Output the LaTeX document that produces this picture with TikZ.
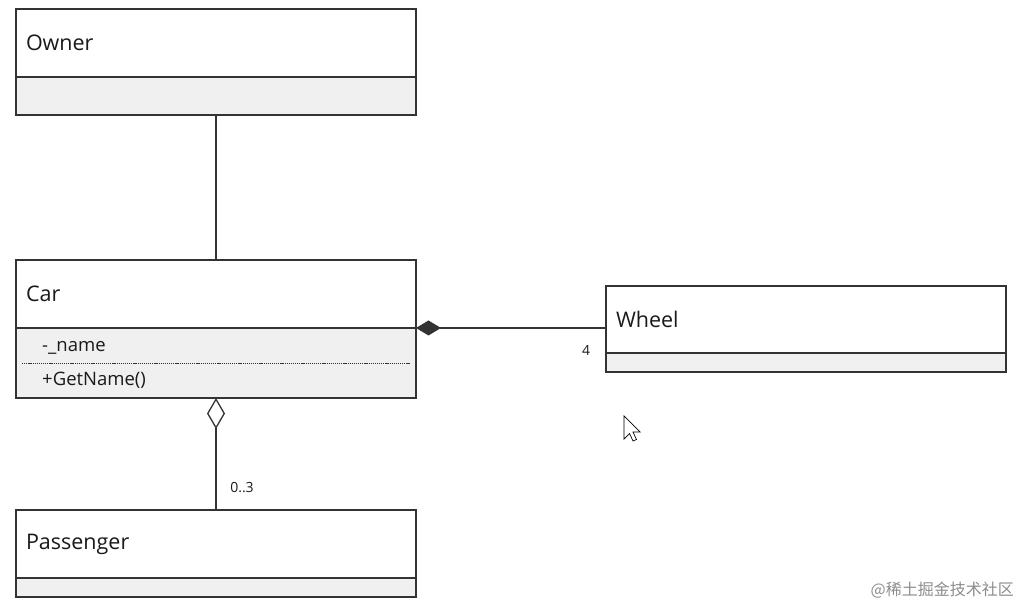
\documentclass[tikz,border=0pt]{standalone}
\usepackage{fontspec}
\setmainfont{Open Sans}
\newfontfamily\cjk{Noto Sans CJK SC}
\usetikzlibrary{arrows.meta}
\definecolor{ln}{HTML}{333333}
\definecolor{cmp}{HTML}{F0F0F0}
\definecolor{tx}{HTML}{1A1A1A}
\tikzset{
  titlebox/.style={draw=ln, line width=1.3pt, fill=white, anchor=north west,
    text width=380pt, inner xsep=10pt, inner ysep=0pt, outer sep=0pt, align=left, text=tx,
    font=\fontsize{21.5}{24}\selectfont},
  cmpbox/.style={draw=ln, line width=1.3pt, fill=cmp, anchor=north west,
    minimum width=400pt, inner sep=0pt, outer sep=0pt},
  member/.style={anchor=west, text=tx, inner sep=0pt, font=\fontsize{18.5}{20}\selectfont},
  mult/.style={text=tx, inner sep=0pt, font=\fontsize{14}{16}\selectfont},
  conn/.style={draw=ln, line width=1.3pt},
}
\begin{document}
\begin{tikzpicture}[x=1pt,y=1pt]
\useasboundingbox (0,0) rectangle (1024,609);
% Owner
\node[titlebox, minimum height=68pt] (ownerT) at (16,600) {Owner};
\node[cmpbox, minimum height=38pt] (ownerC) at (ownerT.south west) {};
% Car
\node[titlebox, minimum height=68pt] (carT) at (16,349) {Car};
\node[cmpbox, minimum height=70pt] (carC) at (carT.south west) {};
\node[member] (attr) at (42,261) {-\_name};
\node[member] (meth) at (42,228.5) {+GetName()};
\coordinate (dotL) at (22,246);
\coordinate (dotR) at (410,246);
\draw[ln, line width=0.9pt, dash pattern=on 1.2pt off 0.9pt] (dotL) -- (dotR);
% Wheel
\node[titlebox, minimum height=67pt] (wheelT) at (606,323) {Wheel};
\node[cmpbox, minimum height=19pt] (wheelC) at (wheelT.south west) {};
% Passenger
\node[titlebox, minimum height=68pt] (passT) at (16,99) {Passenger};
\node[cmpbox, minimum height=19pt] (passC) at (passT.south west) {};
% connectors
\draw[conn] (ownerC.south) -- (carT.north);
\draw[conn, {Diamond[length=25pt,width=15pt,line width=0pt]}-] (carT.south east) -- (carT.south east -| wheelT.west);
\draw[conn, {Diamond[open,length=31pt,width=18pt]}-] (carC.south) -- (passT.north);
\node[mult] (m4) at (586,259) {4};
\node[mult] (m03) at (242,121) {0..3};
% cursor
\draw[black, line width=0.7pt, fill=white, line join=miter]
  (624,193) -- (624,170) -- (629.5,175.5) -- (633,168) -- (636.5,169.5) -- (633,177) -- (640,177) -- cycle;
% watermark
\node[anchor=east, text=black!45, inner sep=0pt, font=\cjk\fontsize{16}{18}\selectfont] (wm) at (1014,19) {@稀土掘金技术社区};
\end{tikzpicture}
\end{document}
